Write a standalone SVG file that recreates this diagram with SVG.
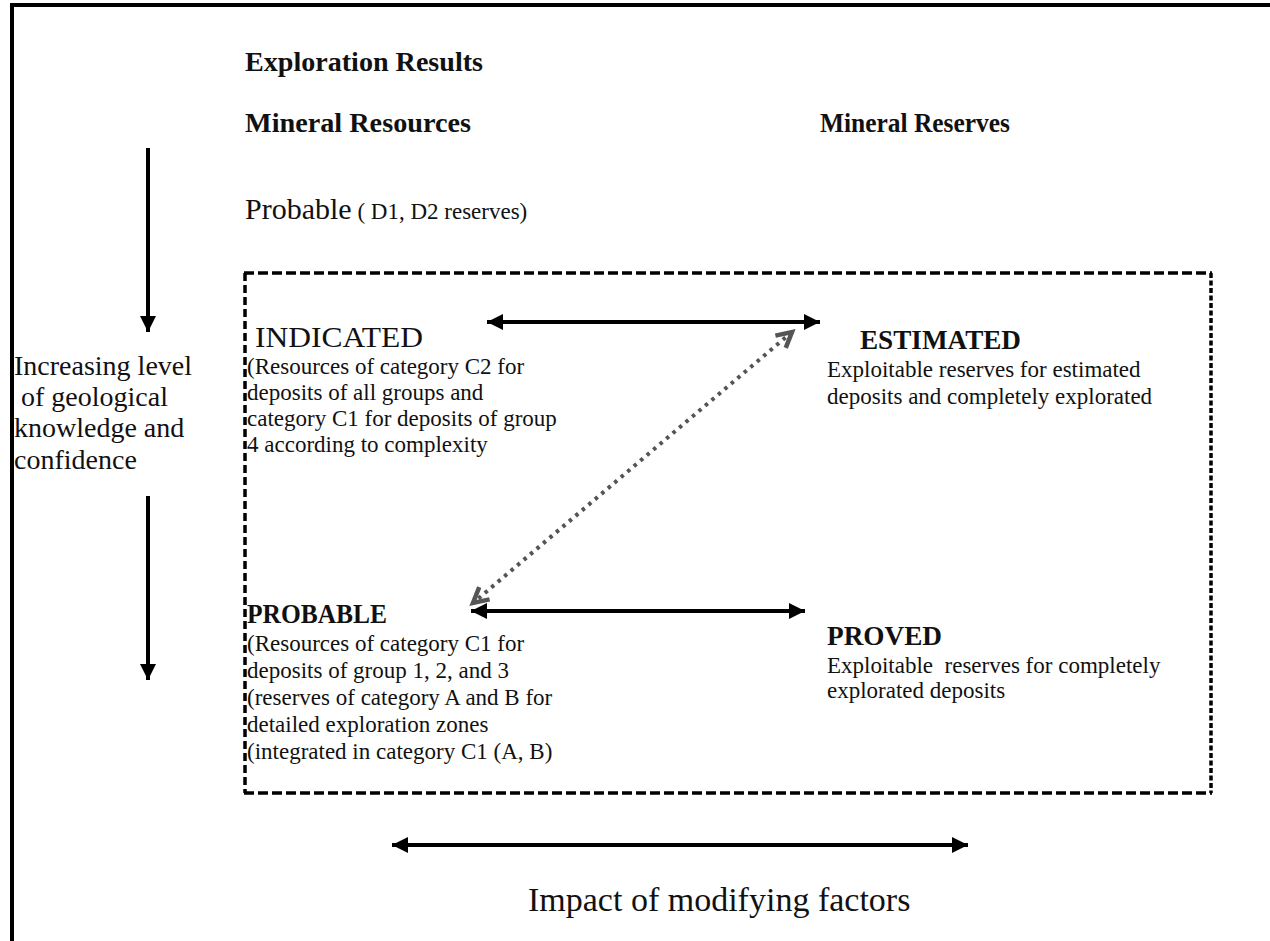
<svg xmlns="http://www.w3.org/2000/svg" width="1270" height="941" viewBox="0 0 1270 941">
  <defs>
    <style>
      text { font-family: "Liberation Serif", "Times New Roman", serif; fill: #111; }
      .title { font-size: 27px; font-weight: bold; }
      .head { font-size: 27px; font-weight: bold; }
      .body { font-size: 23px; }
      .side { font-size: 28px; }
      .big { font-size: 30px; }
      .impact { font-size: 34px; }
      .frame { fill: none; stroke: #000; stroke-width: 4; }
      .dash-h { stroke: #000; stroke-width: 3.5; stroke-dasharray: 10 4; }
      .dash-v { stroke: #000; stroke-width: 3.5; stroke-dasharray: 8 4; }
      .dash-r { stroke: #000; stroke-width: 3.5; stroke-dasharray: 5 2.5; }
      .arrow { stroke: #000; stroke-width: 4; fill: none; }
      .link { stroke: #555; stroke-width: 4; stroke-dasharray: 3.5 5; fill: none; }
    </style>
    <marker id="head" markerUnits="userSpaceOnUse" markerWidth="18" markerHeight="16" refX="16" refY="8" orient="auto-start-reverse" overflow="visible">
      <path d="M0,0 L16,8 L0,16 Z" fill="#000"/>
    </marker>
    <marker id="chevron" markerUnits="userSpaceOnUse" markerWidth="20" markerHeight="20" refX="16" refY="9" orient="auto-start-reverse" overflow="visible">
      <path d="M1,1 L16,9 L1,17" fill="none" stroke="#555" stroke-width="4.5" stroke-linejoin="miter"/>
    </marker>
  </defs>

  <!-- page frame (top and left edges only) -->
  <path class="frame" d="M12,941 V5 H1270"/>

  <!-- column titles -->
  <g id="exploration-results">
    <text class="title" x="245" y="71" textLength="238" lengthAdjust="spacingAndGlyphs">Exploration Results</text>
  </g>
  <g id="mineral-resources">
    <text class="title" x="245" y="132" textLength="226" lengthAdjust="spacingAndGlyphs">Mineral Resources</text>
  </g>
  <g id="mineral-reserves">
    <text class="title" x="820" y="132" textLength="190" lengthAdjust="spacingAndGlyphs">Mineral Reserves</text>
  </g>
  <g id="probable-d">
    <text x="245" y="219"><tspan class="big">Probable</tspan><tspan class="body"> ( D1, D2 reserves)</tspan></text>
  </g>

  <!-- side caption -->
  <g id="confidence-label">
    <text class="side" x="14" y="375">Increasing level</text>
    <text class="side" x="14" y="406" xml:space="preserve"> of geological</text>
    <text class="side" x="14" y="437">knowledge and</text>
    <text class="side" x="14" y="469">confidence</text>
  </g>

  <!-- dashed classification box -->
  <g id="classification-box">
    <line class="dash-h" x1="244" y1="273" x2="1212" y2="273"/>
    <line class="dash-h" x1="244" y1="793" x2="1212" y2="793"/>
    <line class="dash-v" x1="245" y1="273" x2="245" y2="793"/>
    <line class="dash-r" x1="1211" y1="273" x2="1211" y2="793"/>
  </g>

  <g id="indicated">
    <text class="big" x="255" y="347" textLength="168" lengthAdjust="spacingAndGlyphs">INDICATED</text>
    <text class="body" x="247" y="374">(Resources of category C2 for</text>
    <text class="body" x="247" y="400">deposits of all groups and</text>
    <text class="body" x="247" y="426">category C1 for deposits of group</text>
    <text class="body" x="247" y="452">4 according to complexity</text>
  </g>

  <g id="estimated">
    <text class="head" x="860" y="349" textLength="161" lengthAdjust="spacingAndGlyphs">ESTIMATED</text>
    <text class="body" x="827" y="377">Exploitable reserves for estimated</text>
    <text class="body" x="827" y="404">deposits and completely explorated</text>
  </g>

  <g id="probable">
    <text class="head" x="247" y="623" textLength="140" lengthAdjust="spacingAndGlyphs">PROBABLE</text>
    <text class="body" x="247" y="651">(Resources of category C1 for</text>
    <text class="body" x="247" y="678">deposits of group 1, 2, and 3</text>
    <text class="body" x="247" y="705">(reserves of category A and B for</text>
    <text class="body" x="247" y="732">detailed exploration zones</text>
    <text class="body" x="247" y="759">(integrated in category C1 (A, B)</text>
  </g>

  <g id="proved">
    <text class="head" x="827" y="645" textLength="115" lengthAdjust="spacingAndGlyphs">PROVED</text>
    <text class="body" x="827" y="673" xml:space="preserve">Exploitable  reserves for completely</text>
    <text class="body" x="827" y="698">explorated deposits</text>
  </g>

  <g id="modifying-factors">
    <text class="impact" x="528" y="911">Impact of modifying factors</text>
  </g>

  <!-- connectors -->
  <g id="connectors">
    <line class="arrow" x1="148" y1="148" x2="148" y2="332" marker-end="url(#head)"/>
    <line class="arrow" x1="148" y1="496" x2="148" y2="680" marker-end="url(#head)"/>
    <line class="arrow" x1="487" y1="322" x2="820" y2="322" marker-start="url(#head)" marker-end="url(#head)"/>
    <line class="arrow" x1="471" y1="611" x2="805" y2="611" marker-start="url(#head)" marker-end="url(#head)"/>
    <line class="arrow" x1="392" y1="845" x2="968" y2="845" marker-start="url(#head)" marker-end="url(#head)"/>
    <line class="link" x1="792" y1="332" x2="473" y2="603" marker-start="url(#chevron)" marker-end="url(#chevron)"/>
  </g>
</svg>
